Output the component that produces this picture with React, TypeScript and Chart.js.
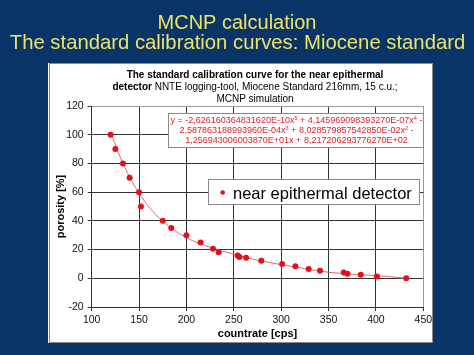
import React, { useEffect, useRef } from "react";
import { Chart, registerables } from "chart.js";
Chart.register(...registerables);

// ---- data ----
const countrate = [120, 125, 133, 140, 150, 152, 175, 184, 200, 215, 228, 234, 254, 256, 263, 279, 301, 315, 329, 341, 366, 370, 384, 401, 432];
const porosity = [100, 90, 80, 70, 60, 50, 40, 35, 30, 25, 20.6, 18.2, 15.9, 14.8, 14.3, 12.2, 9.9, 8.3, 6.4, 5.2, 4.1, 3.1, 2.4, 1.3, 0.1];
const trendX = [120, 130, 140, 150, 160, 175, 200, 225, 250, 275, 300, 325, 350, 375, 400, 432];
const trendY = [101.8, 84.6, 70.6, 59.3, 50.1, 39.6, 28.3, 21.6, 16.8, 12.6, 9.5, 6.7, 4.2, 2.8, 1.9, 0];
const xMin = 100, xMax = 450, xStep = 50;
const yMin = -20, yMax = 120, yStep = 20;

const mainTitle = ["MCNP calculation", "The standard calibration curves: Miocene standard"];
const chartTitle1 = "The standard calibration curve for the near epithermal";
const chartTitle2Bold = "detector";
const chartTitle2 = " NNTE logging-tool, Miocene Standard 216mm, 15 c.u.;";
const chartTitle3 = "MCNP simulation";
const seriesName = "near epithermal detector";
const xTitle = "countrate [cps]";
const yTitle = "porosity [%]";
const equationLines = [
  [{ t: "y = -2,626160364831620E-10x" }, { t: "5", sup: true }, { t: " + 4,145969098393270E-07x" }, { t: "4", sup: true }, { t: " -" }],
  [{ t: "2,587863188993960E-04x" }, { t: "3", sup: true }, { t: " + 8,028579857542850E-02x" }, { t: "2", sup: true }, { t: " -" }],
  [{ t: "1,256943006003870E+01x + 8,217206293776270E+02" }],
];

const FONT = '"Liberation Sans", Arial, sans-serif';
const NAVY = "#083468";
const RED = "#e3101c";

type Part = { t: string; sup?: boolean; b?: boolean };

function drawRich(ctx: CanvasRenderingContext2D, parts: Part[], cx: number, y: number, size: number, color: string) {
  const fontOf = (p: Part) => `${p.b ? "bold " : ""}${p.sup ? size * 0.62 : size}px ${FONT}`;
  let total = 0;
  const widths = parts.map((p) => {
    ctx.font = fontOf(p);
    const w = ctx.measureText(p.t).width;
    total += w;
    return w;
  });
  let x = cx - total / 2;
  ctx.fillStyle = color;
  ctx.textAlign = "left";
  ctx.textBaseline = "alphabetic";
  parts.forEach((p, i) => {
    ctx.font = fontOf(p);
    ctx.fillText(p.t, x, p.sup ? y - size * 0.42 : y);
    x += widths[i];
  });
}

const decor = {
  id: "decor",
  beforeDraw(chart: any) {
    const ctx: CanvasRenderingContext2D = chart.ctx;
    ctx.save();
    ctx.fillStyle = NAVY;
    ctx.fillRect(0, 0, chart.width, chart.height);
    // white panel
    ctx.fillStyle = "#ffffff";
    ctx.fillRect(48, 63, 385, 280);
    ctx.strokeStyle = "#8a8a8a";
    ctx.lineWidth = 1;
    ctx.strokeRect(49.5, 63.5, 383, 279);
    // main title
    ctx.fillStyle = "#f0e264";
    ctx.textAlign = "center";
    ctx.textBaseline = "alphabetic";
    ctx.font = `20px ${FONT}`;
    ctx.fillText(mainTitle[0], 237, 28.5);
    ctx.font = `20.3px ${FONT}`;
    ctx.fillText(mainTitle[1], 237.5, 48.5);
    // chart title
    drawRich(ctx, [{ t: chartTitle1, b: true }], 255, 77.5, 10, "#000");
    drawRich(ctx, [{ t: chartTitle2Bold, b: true }, { t: chartTitle2 }], 255, 90, 10, "#000");
    drawRich(ctx, [{ t: chartTitle3 }], 255, 101.7, 10, "#000");
    ctx.restore();
  },
  afterDraw(chart: any) {
    const ctx: CanvasRenderingContext2D = chart.ctx;
    ctx.save();
    // equation box
    ctx.fillStyle = "#ffffff";
    ctx.fillRect(168, 113, 255, 35);
    ctx.strokeStyle = "#888";
    ctx.lineWidth = 1;
    ctx.strokeRect(168.5, 113.5, 255, 34);
    const ys = [123.3, 133.3, 142.8];
    equationLines.forEach((ln, i) => drawRich(ctx, ln as Part[], 296.5, ys[i], 9, "#e0202a"));
    // legend box
    ctx.fillStyle = "#ffffff";
    ctx.fillRect(208, 179, 212, 25);
    ctx.strokeStyle = "#888";
    ctx.strokeRect(208.5, 179.5, 211, 25);
    ctx.fillStyle = RED;
    ctx.beginPath();
    ctx.arc(222.7, 192.5, 2.3, 0, Math.PI * 2);
    ctx.fill();
    ctx.fillStyle = "#000";
    ctx.font = `16.5px ${FONT}`;
    ctx.textAlign = "left";
    ctx.textBaseline = "alphabetic";
    ctx.fillText(seriesName, 233, 198.5);
    ctx.restore();
  },
};

export default function App() {
  const ref = useRef<HTMLCanvasElement | null>(null);
  useEffect(() => {
    if (!ref.current) return;
    const gridColor = (edge: number) => (c: any) => (c.tick && c.tick.value === edge ? "#9a9a9a" : "#333");
    const chart = new Chart(ref.current, {
      type: "scatter",
      data: {
        datasets: [
          {
            label: seriesName,
            data: countrate.map((x, i) => ({ x, y: porosity[i] })),
            backgroundColor: RED,
            borderColor: RED,
            pointRadius: 3,
            pointBorderWidth: 0,
            showLine: false,
            order: 1,
          },
          {
            label: "trend",
            data: trendX.map((x, i) => ({ x, y: trendY[i] })),
            borderColor: "#e06a6a",
            borderWidth: 1,
            pointRadius: 0,
            showLine: true,
            cubicInterpolationMode: "monotone",
            order: 2,
          } as any,
        ],
      },
      options: {
        animation: false,
        responsive: false,
        devicePixelRatio: 1,
        layout: { padding: { left: 48, right: 50.7, top: 106, bottom: 12 } },
        plugins: { legend: { display: false }, tooltip: { enabled: false }, title: { display: false } },
        scales: {
          x: {
            type: "linear",
            min: xMin,
            max: xMax,
            ticks: { stepSize: xStep, color: "#111", font: { family: FONT, size: 10.5 }, padding: 3, maxRotation: 0 },
            grid: { color: gridColor(xMax), tickLength: 4, drawTicks: true, tickColor: "#333" },
            border: { color: "#333" },
            title: { display: true, text: xTitle, color: "#000", font: { family: FONT, size: 11, weight: "bold" }, padding: { top: 0, bottom: 2 } },
            afterFit: (s: any) => { s.height = 36; },
          },
          y: {
            type: "linear",
            min: yMin,
            max: yMax,
            ticks: { stepSize: yStep, color: "#111", font: { family: FONT, size: 10.5 }, padding: 4 },
            grid: { color: gridColor(yMax), tickLength: 4, drawTicks: true, tickColor: "#333" },
            border: { color: "#333" },
            title: { display: true, text: yTitle, color: "#000", font: { family: FONT, size: 11, weight: "bold" }, padding: { top: 6, bottom: 0 } },
            afterFit: (s: any) => { s.width = 43.7; },
          },
        },
      },
      plugins: [decor],
    } as any);
    return () => chart.destroy();
  }, []);
  return (
    <div style={{ position: "absolute", left: 0, top: 0, width: 474, height: 355, background: NAVY }}>
      <canvas ref={ref} width={474} height={355} style={{ display: "block", width: 474, height: 355 }} />
    </div>
  );
}
